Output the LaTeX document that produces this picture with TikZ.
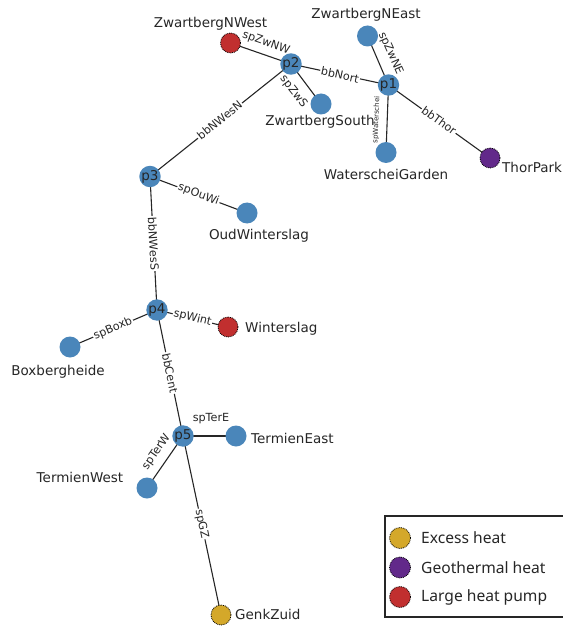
\documentclass[tikz,border=0pt]{standalone}
\usepackage{fontspec}
\setmainfont{DejaVu Sans}
\newfontfamily\legendfont{Noto Sans}
\definecolor{nodeblue}{HTML}{4A86BA}
\definecolor{heatgold}{HTML}{D4A82A}
\definecolor{heatpurple}{HTML}{62298A}
\definecolor{heatred}{HTML}{C12F2F}
\definecolor{txt}{HTML}{262626}
\tikzset{
  junction/.style={circle, fill=nodeblue, minimum size=21pt, inner sep=0pt,
    font=\fontsize{13.5}{14}\selectfont, text=txt},
  consumer/.style={circle, fill=nodeblue, minimum size=21pt, inner sep=0pt},
  heatsrc/.style={circle, fill=#1, draw=black, densely dotted, line width=0.8pt,
    minimum size=20pt, inner sep=0pt},
  sitename/.style={font=\fontsize{13.5}{14}\selectfont, text=txt, inner sep=0pt},
  pipe/.style={draw=black!85, line width=1.1pt},
  elab/.style={font=\fontsize{11.2}{12}\selectfont, text=txt, fill=white,
    inner sep=1pt},
  tinylab/.style={font=\fontsize{7}{8}\selectfont, text=txt, inner sep=0.5pt},
  legtext/.style={font=\legendfont\fontsize{15.6}{17}\selectfont, text=txt,
    anchor=west, inner sep=0pt},
}
\begin{document}
\begin{tikzpicture}[x=1pt,y=-1pt]
\useasboundingbox (0,0) rectangle (562,628);

% pipes, drawn first so the circles sit on top
\coordinate (cp1) at (388.5,85);
\coordinate (cp2) at (291,64);
\coordinate (cp3) at (150,176.5);
\coordinate (cp4) at (157,310);
\coordinate (cp5) at (183,436);
\coordinate (cZNW) at (230.5,43);
\coordinate (cZNE) at (367.5,36);
\coordinate (cZS) at (321,104);
\coordinate (cWG) at (386,152.5);
\coordinate (cTP) at (490,158);
\coordinate (cOW) at (247,213);
\coordinate (cWin) at (228,327);
\coordinate (cBox) at (70,347);
\coordinate (cTE) at (236,436);
\coordinate (cTW) at (147,488);
\coordinate (cGZ) at (221,615);

\draw[pipe] (cZNW) -- (cp2);
\draw[pipe] (cp2) -- (cp1);
\draw[pipe] (cZNE) -- (cp1);
\draw[pipe] (cp2) -- (cZS);
\draw[pipe] (cp1) -- (cWG);
\draw[pipe] (cp1) -- (cTP);
\draw[pipe] (cp3) -- (cp2);
\draw[pipe] (cp3) -- (cOW);
\draw[pipe] (cp3) -- (cp4);
\draw[pipe] (cp4) -- (cWin);
\draw[pipe] (cBox) -- (cp4);
\draw[pipe] (cp4) -- (cp5);
\draw[pipe] (cp5) -- (cTE);
\draw[pipe] (cp5) -- (cTW);
\draw[pipe] (cp5) -- (cGZ);

% pipe labels
\node[elab, rotate=-19] (lZwNW) at (266,43) {spZwNW};
\node[elab, rotate=-12.5] (lNort) at (340,75) {bbNort};
\node[elab, rotate=-66] (lZwNE) at (390.5,53.5) {spZwNE};
\node[elab, rotate=-52] (lZwS) at (293.5,91.5) {spZwS};
\node[tinylab, rotate=87.5] (lWat) at (376.5,120) {spWaterschei};
\node[elab, rotate=-36] (lThor) at (439,120.5) {bbThor};
\node[elab, rotate=39] (lNWesN) at (219.5,120) {bbNWesN};
\node[elab, rotate=-20.5] (lOuWi) at (198.5,194.5) {spOuWi};
\node[elab, rotate=-87] (lNWesS) at (153.5,243.5) {bbNWesS};
\node[elab, rotate=-13.5] (lWint) at (192.5,318) {spWint};
\node[elab, rotate=23] (lBoxb) at (113,328.5) {spBoxb};
\node[elab, rotate=-78.3] (lCent) at (170,373) {bbCent};
\node[elab] (lTerE) at (211,419) {spTerE};
\node[elab, rotate=55.3] (lTerW) at (156.5,452) {spTerW};
\node[elab, rotate=-78] (lGZ) at (201.5,524) {spGZ};

% junctions
\node[junction] (p1) at (cp1) {p1};
\node[junction] (p2) at (cp2) {p2};
\node[junction] (p3) at (cp3) {p3};
\node[junction] (p4) at (cp4) {p4};
\node[junction] (p5) at (cp5) {p5};

% consumers
\node[consumer] (ZNE) at (cZNE) {};
\node[consumer] (ZS) at (cZS) {};
\node[consumer] (WG) at (cWG) {};
\node[consumer] (OW) at (cOW) {};
\node[consumer] (Box) at (cBox) {};
\node[consumer] (TE) at (cTE) {};
\node[consumer] (TW) at (cTW) {};

% heat sources
\node[heatsrc=heatred] (ZNW) at (cZNW) {};
\node[heatsrc=heatpurple] (TP) at (cTP) {};
\node[heatsrc=heatred] (Win) at (cWin) {};
\node[heatsrc=heatgold] (GZ) at (cGZ) {};

% names
\node[sitename] (tZNW) at (210.5,24) {ZwartbergNWest};
\node[sitename] (tZNE) at (366,15) {ZwartbergNEast};
\node[sitename] (tZS) at (320,122) {ZwartbergSouth};
\node[sitename] (tWG) at (386,174) {WaterscheiGarden};
\node[sitename, anchor=west] (tTP) at (502,167) {ThorPark};
\node[sitename] (tOW) at (259,236) {OudWinterslag};
\node[sitename, anchor=west] (tWin) at (245,329) {Winterslag};
\node[sitename] (tBox) at (58,372) {Boxbergheide};
\node[sitename, anchor=west] (tTE) at (251,438) {TermienEast};
\node[sitename] (tTW) at (80,477) {TermienWest};
\node[sitename, anchor=west] (tGZ) at (235,614) {GenkZuid};

% legend
\draw[black!85, line width=1.1pt] (385,516) rectangle (566,617);
\node[heatsrc=heatgold, minimum size=21pt] (kExcess) at (400,538) {};
\node[heatsrc=heatpurple, minimum size=21pt] (kGeo) at (400,567.5) {};
\node[heatsrc=heatred, minimum size=21pt] (kPump) at (400,597) {};
\node[legtext] (tExcess) at (421,538) {Excess heat};
\node[legtext] (tGeo) at (421,567.5) {Geothermal heat};
\node[legtext] (tPump) at (421,597) {Large heat pump};
\end{tikzpicture}
\end{document}
